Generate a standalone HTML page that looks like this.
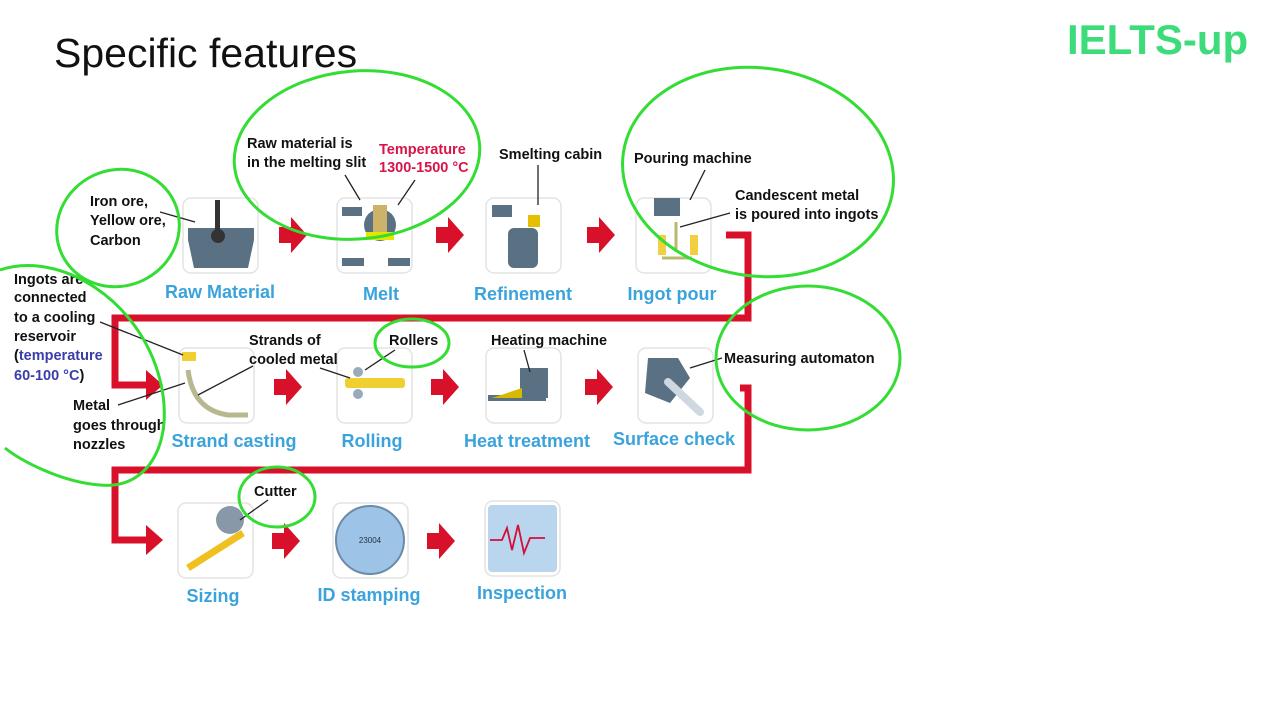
<!DOCTYPE html>
<html><head><meta charset="utf-8"><style>
body{margin:0;background:#fff;}
svg{display:block}
.t{font-family:"Liberation Sans",sans-serif;font-weight:bold;font-size:14.5px;fill:#111}
.b{font-family:"Liberation Sans",sans-serif;font-weight:bold;font-size:18px;fill:#3ba3dc;text-anchor:middle}
.box{fill:#fff;stroke:#e3e3e3;stroke-width:1.5}
.g{fill:none;stroke:#33dd33;stroke-width:3}
.red{fill:none;stroke:#d9102a;stroke-width:7}
.ar{fill:#d9102a}
.ln{stroke:#222;stroke-width:1.3;fill:none}
</style></head><body>
<svg width="1280" height="720" viewBox="0 0 1280 720">
<text x="54" y="67" font-family="Liberation Sans, sans-serif" font-size="41" fill="#111">Specific features</text>
<text x="1067" y="54" font-family="Liberation Sans, sans-serif" font-weight="bold" font-size="42" fill="#3ddc7a">IELTS-up</text>

<path class="red" d="M726 235 H748 V318 H115 V385 H150"/>
<polygon class="ar" points="146,370 163,385 146,400"/>
<path class="red" d="M740 388 H748 V470 H115 V540 H150"/>
<polygon class="ar" points="146,525 163,540 146,555"/>

<g class="ar">
<path d="M279 227 h12 v-10 l16 18 l-16 18 v-10 h-12z"/>
<path d="M436 227 h12 v-10 l16 18 l-16 18 v-10 h-12z"/>
<path d="M587 227 h12 v-10 l16 18 l-16 18 v-10 h-12z"/>
<path d="M274 379 h12 v-10 l16 18 l-16 18 v-10 h-12z"/>
<path d="M431 379 h12 v-10 l16 18 l-16 18 v-10 h-12z"/>
<path d="M585 379 h12 v-10 l16 18 l-16 18 v-10 h-12z"/>
<path d="M272 533 h12 v-10 l16 18 l-16 18 v-10 h-12z"/>
<path d="M427 533 h12 v-10 l16 18 l-16 18 v-10 h-12z"/>
</g>

<rect class="box" x="183" y="198" width="75" height="75" rx="8"/>
<rect class="box" x="337" y="198" width="75" height="75" rx="8"/>
<rect class="box" x="486" y="198" width="75" height="75" rx="8"/>
<rect class="box" x="636" y="198" width="75" height="75" rx="8"/>
<rect class="box" x="179" y="348" width="75" height="75" rx="8"/>
<rect class="box" x="337" y="348" width="75" height="75" rx="8"/>
<rect class="box" x="486" y="348" width="75" height="75" rx="8"/>
<rect class="box" x="638" y="348" width="75" height="75" rx="8"/>
<rect class="box" x="178" y="503" width="75" height="75" rx="8"/>
<rect class="box" x="333" y="503" width="75" height="75" rx="8"/>
<rect class="box" x="485" y="501" width="75" height="75" rx="8"/>

<g fill="#5a7184">
<path d="M188 228 h66 v12 l-6 28 h-54 l-6 -28z"/>
<rect x="215" y="200" width="5" height="30" fill="#333"/><circle cx="218" cy="236" r="7" fill="#333"/>
<path d="M342 258 h22 v8 h-22z M388 258 h22 v8 h-22z"/>
<rect x="342" y="207" width="20" height="9"/>
<circle cx="380" cy="225" r="16"/>
<rect x="492" y="205" width="20" height="12"/>
<rect x="508" y="228" width="30" height="40" rx="6"/>
<rect x="654" y="198" width="26" height="18"/>
<path d="M488 395 h58 v6 h-58z"/>
<rect x="520" y="368" width="28" height="30"/>
<path d="M648 358 l30 0 l12 20 l-20 25 l-25 -10z"/>
</g>
<rect x="373" y="205" width="14" height="30" fill="#cdb36a"/>
<rect x="366" y="232" width="28" height="8" fill="#e4e600"/>
<rect x="528" y="215" width="12" height="12" fill="#e6c000"/>
<path d="M658 235 h8 v20 h-8z M690 235 h8 v20 h-8z" fill="#f0d040"/>
<path d="M676 222 v30 M662 258 h30" stroke="#b8b870" stroke-width="3"/>
<rect x="182" y="352" width="14" height="9" fill="#f0d030"/>
<path d="M188 370 q5 40 40 45 h20" stroke="#b8b890" stroke-width="5" fill="none"/>
<rect x="345" y="378" width="60" height="10" rx="3" fill="#f0d030"/>
<circle cx="358" cy="372" r="5" fill="#9ab"/><circle cx="358" cy="394" r="5" fill="#9ab"/>
<path d="M492 398 l30 -10 v10 z" fill="#d8b800"/>
<path d="M668 382 l32 30" stroke="#cfd8e0" stroke-width="8" stroke-linecap="round"/>
<path d="M188 568 l55 -35" stroke="#f0c020" stroke-width="7"/>
<circle cx="230" cy="520" r="14" fill="#8898a8"/>
<circle cx="370" cy="540" r="34" fill="#9dc4e6" stroke="#6a8aa8" stroke-width="2"/>
<text x="370" y="543" font-family="Liberation Sans,sans-serif" font-size="8" text-anchor="middle" fill="#234">23004</text>
<rect x="488" y="505" width="69" height="67" rx="4" fill="#b9d6ee"/>
<path d="M490 540 h12 l5 -12 l5 22 l6 -25 l6 28 l6 -15 h15" stroke="#d0103a" stroke-width="1.8" fill="none"/>

<text class="b" x="220" y="298">Raw Material</text>
<text class="b" x="381" y="300">Melt</text>
<text class="b" x="523" y="300">Refinement</text>
<text class="b" x="672" y="300">Ingot pour</text>
<text class="b" x="234" y="447">Strand casting</text>
<text class="b" x="372" y="447">Rolling</text>
<text class="b" x="527" y="447">Heat treatment</text>
<text class="b" x="674" y="445">Surface check</text>
<text class="b" x="213" y="602">Sizing</text>
<text class="b" x="369" y="601">ID stamping</text>
<text class="b" x="522" y="599">Inspection</text>

<text class="t" x="90" y="206">Iron ore,</text>
<text class="t" x="90" y="225">Yellow ore,</text>
<text class="t" x="90" y="245">Carbon</text>
<path class="ln" d="M160 212 L195 222"/>
<text class="t" x="247" y="148">Raw material is</text>
<text class="t" x="247" y="167">in the melting slit</text>
<text class="t" x="379" y="154" style="fill:#d8154a">Temperature</text>
<text class="t" x="379" y="172" style="fill:#d8154a">1300-1500 °C</text>
<path class="ln" d="M345 175 L360 200 M415 180 L398 205"/>
<text class="t" x="499" y="159">Smelting cabin</text>
<path class="ln" d="M538 165 V205"/>
<text class="t" x="634" y="163">Pouring machine</text>
<path class="ln" d="M705 170 L690 200"/>
<text class="t" x="735" y="200">Candescent metal</text>
<text class="t" x="735" y="219">is poured into ingots</text>
<path class="ln" d="M730 213 L680 227"/>
<text class="t" x="14" y="284">Ingots are</text>
<text class="t" x="14" y="302">connected</text>
<text class="t" x="14" y="322">to a cooling</text>
<text class="t" x="14" y="341">reservoir</text>
<text class="t" x="14" y="360">(<tspan style="fill:#3a3eaa">temperature</tspan></text>
<text class="t" x="14" y="380"><tspan style="fill:#3a3eaa">60-100 °C</tspan>)</text>
<path class="ln" d="M100 322 L183 355"/>
<text class="t" x="73" y="410">Metal</text>
<text class="t" x="73" y="430">goes through</text>
<text class="t" x="73" y="449">nozzles</text>
<path class="ln" d="M118 405 L185 383"/>
<text class="t" x="249" y="345">Strands of</text>
<text class="t" x="249" y="364">cooled metal</text>
<path class="ln" d="M253 366 L198 395 M320 368 L350 378"/>
<text class="t" x="389" y="345">Rollers</text>
<path class="ln" d="M395 350 L365 370"/>
<text class="t" x="491" y="345">Heating machine</text>
<path class="ln" d="M524 350 L530 372"/>
<text class="t" x="724" y="363">Measuring automaton</text>
<path class="ln" d="M722 358 L690 368"/>
<text class="t" x="254" y="496">Cutter</text>
<path class="ln" d="M268 500 L240 520"/>

<ellipse class="g" cx="118" cy="228" rx="62" ry="58" transform="rotate(-25 118 228)"/>
<ellipse class="g" cx="357" cy="155" rx="123" ry="84" transform="rotate(-5 357 155)"/>
<ellipse class="g" cx="758" cy="172" rx="136" ry="104" transform="rotate(8 758 172)"/>
<path class="g" d="M0 270 C60 250 140 300 160 380 C175 440 150 490 100 485 C60 482 20 460 5 448"/>
<ellipse class="g" cx="808" cy="358" rx="92" ry="72"/>
<ellipse class="g" cx="412" cy="343" rx="37" ry="24"/>
<ellipse class="g" cx="277" cy="497" rx="38" ry="30"/>
</svg>
</body></html>
